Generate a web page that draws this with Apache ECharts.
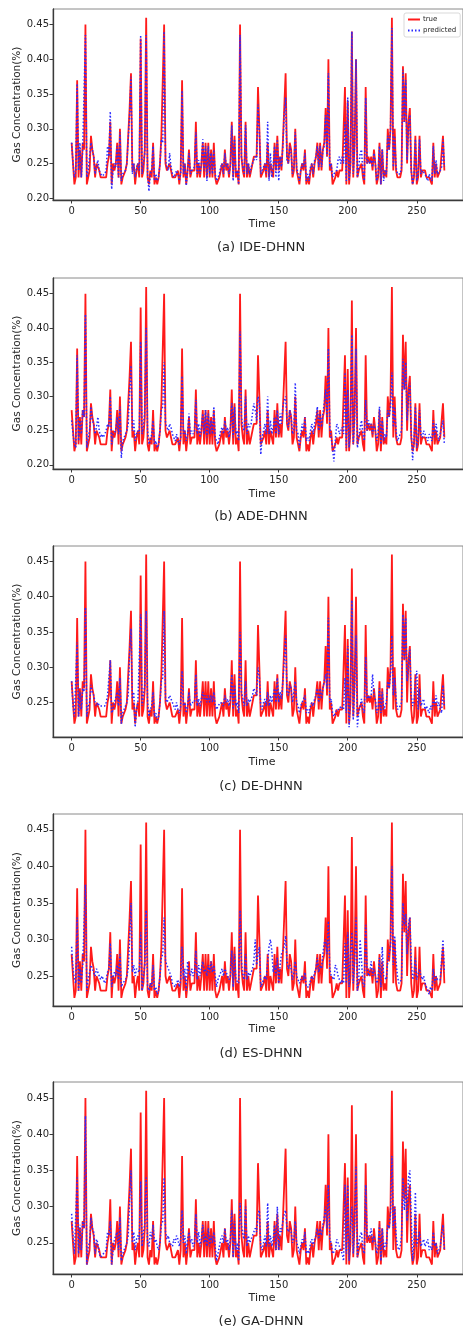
<!DOCTYPE html>
<html>
<head>
<meta charset="utf-8">
<script src="https://cdn.jsdelivr.net/npm/echarts@6/dist/echarts.min.js"></script>
<style>
  html, body { margin: 0; padding: 0; background: #fff; overflow: hidden; }
  #chart { width: 463px; height: 1331px; }
</style>
</head>
<body>
<div id="chart"></div>
<script>
// Measured gas concentration (%) over 271 time steps
const trueValues = [
  0.28,0.25,0.22,0.23,0.37,0.23,0.27,0.23,0.28,0.27,
  0.45,0.22,0.23,0.24,0.29,0.27,0.26,0.23,0.25,0.25,
  0.24,0.23,0.23,0.23,0.23,0.23,0.25,0.26,0.31,0.22,
  0.25,0.24,0.25,0.28,0.23,0.30,0.22,0.23,0.23,0.24,
  0.25,0.25,0.33,0.38,0.24,0.25,0.22,0.24,0.25,0.23,
  0.43,0.23,0.24,0.27,0.46,0.23,0.22,0.24,0.23,0.28,
  0.22,0.23,0.22,0.23,0.25,0.29,0.29,0.45,0.25,0.24,
  0.24,0.25,0.24,0.23,0.23,0.23,0.23,0.24,0.22,0.24,
  0.37,0.23,0.25,0.22,0.24,0.27,0.23,0.24,0.24,0.24,
  0.31,0.23,0.25,0.23,0.25,0.28,0.23,0.28,0.23,0.28,
  0.23,0.27,0.23,0.28,0.23,0.22,0.22,0.23,0.24,0.25,
  0.23,0.27,0.24,0.25,0.23,0.25,0.31,0.23,0.29,0.23,
  0.24,0.22,0.45,0.26,0.24,0.23,0.31,0.23,0.25,0.23,
  0.24,0.25,0.26,0.26,0.26,0.36,0.30,0.23,0.23,0.24,
  0.25,0.23,0.28,0.23,0.25,0.24,0.23,0.28,0.24,0.29,
  0.24,0.26,0.24,0.28,0.33,0.38,0.26,0.25,0.28,0.27,
  0.23,0.24,0.30,0.24,0.23,0.22,0.24,0.25,0.24,0.27,
  0.22,0.23,0.22,0.24,0.25,0.23,0.25,0.26,0.28,0.24,
  0.28,0.24,0.27,0.28,0.33,0.26,0.40,0.24,0.25,0.22,
  0.22,0.23,0.24,0.23,0.24,0.24,0.24,0.24,0.36,0.22,
  0.34,0.22,0.25,0.44,0.23,0.28,0.40,0.23,0.24,0.24,
  0.25,0.23,0.22,0.36,0.25,0.26,0.25,0.26,0.24,0.27,
  0.25,0.22,0.23,0.28,0.22,0.27,0.23,0.24,0.23,0.30,
  0.27,0.30,0.46,0.24,0.30,0.24,0.23,0.23,0.23,0.24,
  0.39,0.31,0.38,0.25,0.31,0.33,0.24,0.22,0.23,0.29,
  0.22,0.23,0.29,0.23,0.24,0.24,0.24,0.23,0.23,0.23,
  0.23,0.22,0.28,0.23,0.25,0.23,0.23,0.24,0.24,0.29,0.24
];

// Model outputs
const predIDE = [
  0.28,0.25,0.23,0.24,0.365,0.24,0.28,0.23,0.27,0.27,
  0.435,0.23,0.24,0.24,0.28,0.27,0.26,0.235,0.245,0.255,
  0.24,0.235,0.232,0.232,0.235,0.24,0.275,0.26,0.325,0.213,
  0.24,0.25,0.245,0.275,0.23,0.295,0.225,0.235,0.235,0.24,
  0.25,0.25,0.32,0.375,0.235,0.25,0.23,0.245,0.25,0.24,
  0.435,0.235,0.25,0.265,0.435,0.235,0.21,0.235,0.24,0.275,
  0.225,0.235,0.225,0.23,0.25,0.285,0.28,0.44,0.255,0.245,
  0.24,0.265,0.245,0.235,0.23,0.235,0.24,0.235,0.225,0.235,
  0.355,0.235,0.25,0.218,0.24,0.265,0.235,0.24,0.24,0.245,
  0.295,0.235,0.255,0.235,0.25,0.285,0.24,0.275,0.225,0.275,
  0.235,0.265,0.235,0.27,0.235,0.225,0.23,0.235,0.245,0.25,
  0.235,0.265,0.245,0.25,0.235,0.245,0.305,0.225,0.285,0.235,
  0.24,0.22,0.435,0.26,0.245,0.235,0.305,0.235,0.25,0.235,
  0.245,0.25,0.255,0.26,0.255,0.335,0.295,0.235,0.235,0.245,
  0.25,0.235,0.31,0.225,0.265,0.23,0.245,0.275,0.23,0.285,
  0.225,0.26,0.245,0.275,0.32,0.345,0.255,0.25,0.275,0.265,
  0.235,0.245,0.295,0.245,0.235,0.225,0.24,0.25,0.245,0.265,
  0.225,0.235,0.225,0.245,0.25,0.235,0.255,0.26,0.275,0.245,
  0.275,0.245,0.27,0.275,0.32,0.26,0.38,0.245,0.25,0.23,
  0.235,0.235,0.24,0.255,0.26,0.25,0.26,0.25,0.31,0.225,
  0.345,0.225,0.25,0.44,0.235,0.275,0.40,0.23,0.245,0.265,
  0.27,0.235,0.225,0.345,0.25,0.255,0.25,0.255,0.245,0.265,
  0.25,0.225,0.235,0.275,0.22,0.27,0.225,0.24,0.235,0.29,
  0.27,0.30,0.445,0.245,0.29,0.245,0.235,0.235,0.235,0.245,
  0.385,0.31,0.37,0.255,0.305,0.32,0.24,0.22,0.235,0.285,
  0.225,0.235,0.285,0.235,0.24,0.24,0.235,0.23,0.225,0.235,
  0.235,0.225,0.275,0.235,0.255,0.235,0.235,0.24,0.245,0.285,0.245
];

const predADE = [
  0.265,0.245,0.23,0.225,0.36,0.235,0.265,0.245,0.28,0.27,
  0.42,0.225,0.24,0.25,0.285,0.265,0.26,0.245,0.255,0.27,
  0.25,0.24,0.245,0.24,0.245,0.25,0.26,0.255,0.30,0.23,
  0.245,0.245,0.25,0.27,0.245,0.285,0.21,0.235,0.24,0.245,
  0.25,0.26,0.31,0.345,0.25,0.265,0.235,0.245,0.25,0.245,
  0.38,0.245,0.255,0.28,0.40,0.25,0.23,0.235,0.245,0.265,
  0.23,0.235,0.225,0.23,0.25,0.28,0.285,0.35,0.26,0.255,
  0.25,0.26,0.255,0.245,0.24,0.235,0.245,0.235,0.23,0.24,
  0.33,0.245,0.25,0.235,0.245,0.275,0.245,0.25,0.245,0.25,
  0.295,0.245,0.26,0.24,0.255,0.275,0.245,0.28,0.24,0.275,
  0.245,0.265,0.245,0.285,0.24,0.235,0.23,0.24,0.25,0.255,
  0.245,0.265,0.25,0.255,0.24,0.255,0.29,0.24,0.285,0.245,
  0.25,0.235,0.395,0.27,0.255,0.25,0.30,0.245,0.26,0.255,
  0.26,0.275,0.29,0.28,0.265,0.30,0.29,0.215,0.24,0.25,
  0.26,0.245,0.30,0.245,0.265,0.245,0.255,0.27,0.245,0.28,
  0.245,0.275,0.26,0.285,0.295,0.30,0.265,0.255,0.28,0.27,
  0.245,0.25,0.32,0.25,0.245,0.225,0.245,0.26,0.25,0.27,
  0.235,0.24,0.235,0.25,0.26,0.245,0.26,0.27,0.285,0.25,
  0.275,0.255,0.275,0.29,0.31,0.27,0.37,0.255,0.255,0.225,
  0.205,0.235,0.26,0.255,0.245,0.25,0.255,0.245,0.335,0.225,
  0.31,0.225,0.26,0.39,0.23,0.265,0.37,0.225,0.24,0.255,
  0.265,0.245,0.235,0.295,0.25,0.265,0.255,0.26,0.245,0.26,
  0.25,0.235,0.245,0.285,0.23,0.265,0.235,0.245,0.24,0.28,
  0.27,0.285,0.335,0.255,0.285,0.25,0.235,0.24,0.245,0.25,
  0.355,0.31,0.35,0.265,0.30,0.32,0.25,0.207,0.235,0.285,
  0.225,0.24,0.28,0.245,0.24,0.25,0.245,0.24,0.235,0.245,
  0.24,0.235,0.265,0.24,0.26,0.245,0.235,0.245,0.245,0.265,0.23
];

const predDE = [
  0.28,0.245,0.23,0.23,0.335,0.23,0.265,0.24,0.27,0.265,
  0.385,0.23,0.245,0.25,0.275,0.265,0.26,0.25,0.245,0.25,
  0.245,0.245,0.245,0.245,0.245,0.25,0.26,0.26,0.31,0.235,
  0.24,0.25,0.25,0.265,0.245,0.285,0.22,0.235,0.24,0.245,
  0.25,0.26,0.32,0.355,0.255,0.265,0.215,0.24,0.25,0.25,
  0.375,0.245,0.26,0.275,0.38,0.25,0.23,0.24,0.245,0.265,
  0.23,0.235,0.225,0.23,0.25,0.28,0.285,0.38,0.255,0.25,
  0.255,0.26,0.255,0.25,0.245,0.24,0.25,0.24,0.235,0.245,
  0.295,0.245,0.25,0.235,0.245,0.265,0.245,0.25,0.25,0.25,
  0.29,0.245,0.255,0.245,0.255,0.265,0.255,0.26,0.25,0.26,
  0.25,0.26,0.25,0.265,0.245,0.24,0.245,0.245,0.25,0.25,
  0.245,0.26,0.25,0.255,0.245,0.255,0.29,0.24,0.275,0.245,
  0.25,0.235,0.35,0.265,0.255,0.245,0.28,0.245,0.255,0.25,
  0.255,0.26,0.27,0.265,0.26,0.30,0.285,0.245,0.24,0.25,
  0.255,0.245,0.265,0.245,0.26,0.25,0.25,0.27,0.25,0.285,
  0.25,0.265,0.255,0.28,0.31,0.345,0.265,0.26,0.275,0.27,
  0.25,0.25,0.28,0.25,0.245,0.235,0.245,0.25,0.25,0.26,
  0.235,0.24,0.235,0.245,0.25,0.245,0.255,0.26,0.27,0.25,
  0.27,0.255,0.27,0.28,0.29,0.27,0.37,0.25,0.255,0.235,
  0.23,0.235,0.24,0.24,0.24,0.245,0.245,0.24,0.285,0.235,
  0.33,0.215,0.26,0.395,0.225,0.27,0.345,0.215,0.235,0.245,
  0.255,0.24,0.235,0.315,0.255,0.26,0.255,0.26,0.29,0.26,
  0.255,0.235,0.24,0.27,0.235,0.265,0.24,0.245,0.25,0.28,
  0.27,0.29,0.345,0.26,0.285,0.255,0.24,0.24,0.245,0.25,
  0.375,0.31,0.37,0.28,0.30,0.325,0.26,0.245,0.25,0.28,
  0.295,0.24,0.27,0.245,0.25,0.255,0.24,0.245,0.24,0.235,
  0.245,0.24,0.255,0.245,0.26,0.245,0.25,0.24,0.235,0.275,0.245
];

const predES = [
  0.29,0.26,0.245,0.24,0.33,0.23,0.26,0.24,0.265,0.265,
  0.375,0.23,0.245,0.255,0.265,0.26,0.255,0.25,0.26,0.255,
  0.25,0.245,0.25,0.245,0.24,0.245,0.255,0.26,0.295,0.235,
  0.25,0.255,0.25,0.265,0.245,0.28,0.235,0.24,0.24,0.245,
  0.25,0.26,0.30,0.35,0.255,0.265,0.25,0.26,0.26,0.255,
  0.31,0.23,0.25,0.265,0.34,0.235,0.23,0.24,0.235,0.265,
  0.23,0.235,0.225,0.23,0.25,0.275,0.28,0.33,0.27,0.265,
  0.26,0.255,0.25,0.24,0.24,0.235,0.24,0.245,0.235,0.245,
  0.29,0.245,0.26,0.23,0.27,0.255,0.25,0.26,0.25,0.255,
  0.285,0.245,0.265,0.25,0.26,0.27,0.255,0.26,0.25,0.265,
  0.255,0.27,0.255,0.265,0.25,0.235,0.245,0.25,0.255,0.26,
  0.25,0.26,0.255,0.255,0.245,0.25,0.285,0.235,0.28,0.245,
  0.245,0.24,0.34,0.27,0.25,0.245,0.28,0.245,0.255,0.25,
  0.255,0.26,0.27,0.30,0.265,0.28,0.29,0.235,0.235,0.245,
  0.25,0.245,0.27,0.29,0.30,0.285,0.255,0.265,0.25,0.275,
  0.24,0.265,0.28,0.285,0.29,0.305,0.27,0.26,0.265,0.26,
  0.245,0.255,0.27,0.25,0.245,0.24,0.245,0.25,0.245,0.255,
  0.235,0.235,0.235,0.245,0.25,0.245,0.255,0.26,0.275,0.255,
  0.265,0.26,0.28,0.295,0.30,0.28,0.325,0.26,0.25,0.25,
  0.245,0.265,0.26,0.25,0.245,0.24,0.245,0.24,0.295,0.24,
  0.31,0.235,0.28,0.31,0.24,0.27,0.33,0.23,0.245,0.30,
  0.27,0.24,0.235,0.32,0.26,0.25,0.255,0.27,0.25,0.26,
  0.25,0.24,0.245,0.275,0.235,0.29,0.25,0.25,0.245,0.27,
  0.27,0.29,0.40,0.265,0.305,0.27,0.25,0.24,0.24,0.245,
  0.35,0.32,0.335,0.28,0.32,0.33,0.27,0.245,0.25,0.275,
  0.245,0.245,0.26,0.25,0.245,0.25,0.24,0.235,0.235,0.225,
  0.235,0.23,0.26,0.24,0.25,0.245,0.245,0.245,0.245,0.30,0.255
];

const predGA = [
  0.29,0.26,0.235,0.235,0.34,0.235,0.275,0.24,0.28,0.27,
  0.425,0.22,0.245,0.25,0.285,0.27,0.265,0.235,0.255,0.25,
  0.235,0.23,0.23,0.235,0.235,0.24,0.265,0.26,0.28,0.22,
  0.24,0.255,0.26,0.265,0.24,0.285,0.225,0.235,0.24,0.245,
  0.25,0.26,0.31,0.35,0.25,0.265,0.24,0.255,0.26,0.255,
  0.335,0.245,0.265,0.275,0.34,0.25,0.245,0.265,0.255,0.275,
  0.25,0.255,0.245,0.24,0.25,0.275,0.28,0.34,0.265,0.255,
  0.26,0.25,0.25,0.245,0.255,0.25,0.26,0.255,0.245,0.255,
  0.295,0.25,0.26,0.235,0.255,0.265,0.25,0.255,0.245,0.25,
  0.29,0.25,0.265,0.245,0.255,0.275,0.25,0.26,0.245,0.27,
  0.245,0.26,0.25,0.265,0.245,0.225,0.235,0.245,0.255,0.26,
  0.25,0.27,0.25,0.255,0.24,0.255,0.295,0.23,0.28,0.24,
  0.25,0.225,0.305,0.275,0.26,0.255,0.30,0.245,0.26,0.25,
  0.255,0.26,0.265,0.27,0.265,0.29,0.295,0.245,0.24,0.25,
  0.26,0.245,0.305,0.245,0.26,0.245,0.255,0.275,0.24,0.30,
  0.24,0.27,0.265,0.28,0.29,0.295,0.27,0.265,0.27,0.265,
  0.25,0.255,0.28,0.25,0.245,0.235,0.245,0.255,0.25,0.265,
  0.235,0.24,0.235,0.25,0.255,0.245,0.255,0.26,0.27,0.255,
  0.27,0.26,0.275,0.285,0.30,0.27,0.33,0.255,0.25,0.235,
  0.235,0.24,0.255,0.25,0.245,0.24,0.235,0.225,0.33,0.235,
  0.33,0.225,0.27,0.30,0.235,0.275,0.355,0.23,0.25,0.26,
  0.265,0.24,0.235,0.33,0.26,0.255,0.26,0.27,0.25,0.26,
  0.25,0.235,0.245,0.275,0.225,0.27,0.24,0.25,0.245,0.275,
  0.27,0.29,0.37,0.27,0.30,0.26,0.245,0.24,0.245,0.26,
  0.34,0.295,0.33,0.28,0.34,0.35,0.285,0.225,0.25,0.32,
  0.245,0.245,0.265,0.245,0.25,0.255,0.245,0.25,0.255,0.24,
  0.245,0.24,0.265,0.245,0.25,0.235,0.24,0.245,0.245,0.275,0.24
];

const xTickLabels = [0, 50, 100, 150, 200, 250];
const yTicksFull = [0.20, 0.25, 0.30, 0.35, 0.40, 0.45];
const yTicksUpper = [0.25, 0.30, 0.35, 0.40, 0.45];

const panels = [
  { caption: '(a) IDE-DHNN', pred: predIDE, top: 9,    height: 191, yMin: 0.1975, yMax: 0.4725, yTicks: yTicksFull,  timeY: 224,  capY: 248 },
  { caption: '(b) ADE-DHNN', pred: predADE, top: 278,  height: 191, yMin: 0.194,  yMax: 0.473,  yTicks: yTicksFull,  timeY: 494,  capY: 517 },
  { caption: '(c) DE-DHNN',  pred: predDE,  top: 546,  height: 191, yMin: 0.201,  yMax: 0.472,  yTicks: yTicksUpper, timeY: 762,  capY: 787 },
  { caption: '(d) ES-DHNN',  pred: predES,  top: 814,  height: 192, yMin: 0.209,  yMax: 0.4716, yTicks: yTicksUpper, timeY: 1029, capY: 1054 },
  { caption: '(e) GA-DHNN',  pred: predGA,  top: 1082, height: 192, yMin: 0.207,  yMax: 0.472,  yTicks: yTicksUpper, timeY: 1298, capY: 1322 }
];

const FONT = 'DejaVu Sans';
const TEXT = '#262626';
const PLOT_LEFT = 53;
const PLOT_WIDTH = 414;

const pairs = (arr) => arr.map((v, i) => [i, v]);

const grids = [], xAxes = [], yAxes = [], series = [], graphics = [];

panels.forEach((p, k) => {
  grids.push({
    left: PLOT_LEFT, top: p.top, width: PLOT_WIDTH, height: p.height,
    show: true, borderColor: '#8a8a8a', borderWidth: 1, backgroundColor: '#fff'
  });
  xAxes.push({
    type: 'value', gridIndex: k, min: -13.5, max: 283.5,
    splitLine: { show: false },
    axisLine: { show: true, onZero: false, lineStyle: { color: '#3a3a3a', width: 1.3 } },
    axisTick: { show: true, length: 3.5, customValues: xTickLabels, lineStyle: { color: '#3a3a3a' } },
    axisLabel: { customValues: xTickLabels, margin: 6, fontFamily: FONT, fontSize: 10, color: TEXT }
  });
  yAxes.push({
    type: 'value', gridIndex: k, min: p.yMin, max: p.yMax,
    splitLine: { show: false },
    axisLine: { show: true, onZero: false, lineStyle: { color: '#3a3a3a', width: 1.3 } },
    axisTick: { show: true, length: 3.5, customValues: p.yTicks, lineStyle: { color: '#3a3a3a' } },
    axisLabel: { customValues: p.yTicks, margin: 4, fontFamily: FONT, fontSize: 10, color: TEXT,
                 formatter: (v) => v.toFixed(2) }
  });
  series.push({
    name: 'true', type: 'line', xAxisIndex: k, yAxisIndex: k,
    data: pairs(trueValues), showSymbol: false, symbol: 'none', z: 2,
    lineStyle: { color: '#ff1a1a', width: 1.8 }, itemStyle: { color: '#ff1a1a' }
  });
  series.push({
    name: 'predicted', type: 'line', xAxisIndex: k, yAxisIndex: k,
    data: pairs(p.pred), showSymbol: false, symbol: 'none', z: 3,
    lineStyle: { color: '#2a2aff', width: 1.5, type: [1.5, 2] }, itemStyle: { color: '#2a2aff' }
  });
  graphics.push({
    type: 'text', x: 17, y: p.top + p.height / 2, rotation: Math.PI / 2,
    style: { text: 'Gas Concentration(%)', fontFamily: FONT, fontSize: 10.5, fill: TEXT,
             textAlign: 'center', textVerticalAlign: 'middle' }
  });
  graphics.push({
    type: 'text', x: 262, y: p.timeY,
    style: { text: 'Time', fontFamily: FONT, fontSize: 11, fill: TEXT,
             textAlign: 'center', textVerticalAlign: 'middle' }
  });
  graphics.push({
    type: 'text', x: 261, y: p.capY,
    style: { text: p.caption, fontFamily: FONT, fontSize: 13, fill: TEXT,
             textAlign: 'center', textVerticalAlign: 'middle' }
  });
});

const chart = echarts.init(document.getElementById('chart'), null, { renderer: 'canvas' });
chart.setOption({
  animation: false,
  backgroundColor: '#fff',
  grid: grids,
  xAxis: xAxes,
  yAxis: yAxes,
  series: series,
  legend: {
    data: ['true', 'predicted'],
    left: 404, top: 13, orient: 'vertical',
    itemWidth: 12, itemHeight: 6, itemGap: 4,
    backgroundColor: '#fff', borderColor: '#cfcfcf', borderWidth: 0.8, borderRadius: 2,
    padding: [3, 4, 3, 3],
    itemStyle: { color: 'rgba(0,0,0,0)', borderWidth: 0, opacity: 0 },
    textStyle: { fontFamily: FONT, fontSize: 7, color: TEXT, padding: [0, 0, 0, -2] },
    selectedMode: false
  },
  graphic: graphics
});
</script>
</body>
</html>
